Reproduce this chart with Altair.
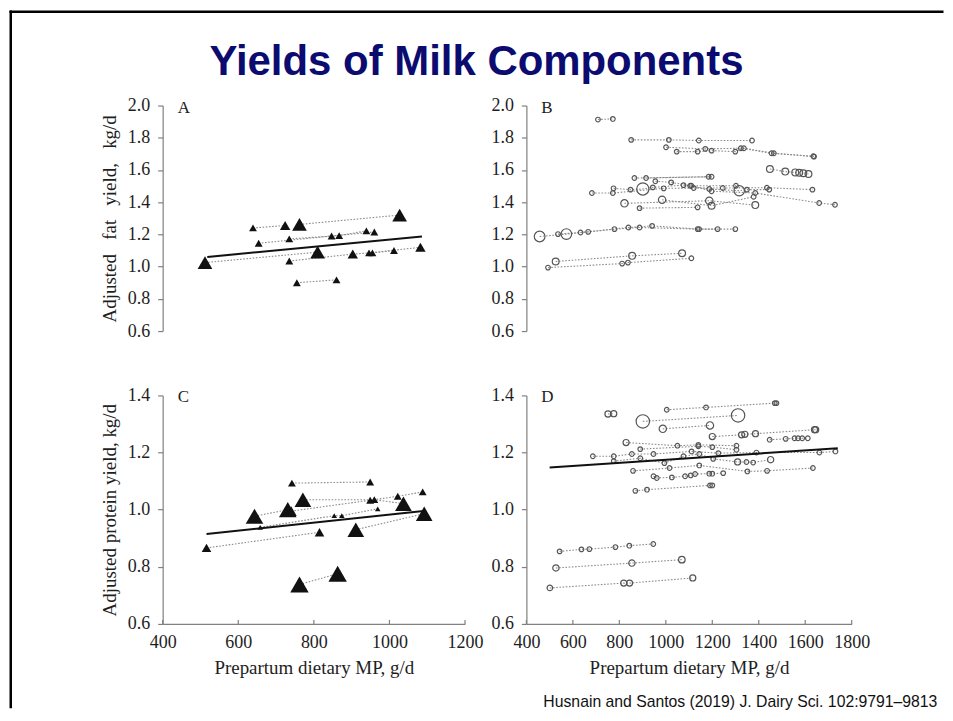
import altair as alt
import pandas as pd

TITLE = "Yields of Milk Components"
CITATION = "Husnain and Santos (2019) J. Dairy Sci. 102:9791\u20139813"
X_TITLE = "Prepartum dietary MP, g/d"
Y_TITLE_FAT = "Adjusted\u2002 fat\u2002 yield,\u2002 kg/d"
Y_TITLE_PROT = "Adjusted protein yield, kg/d"

X_TICKS_LOW = [400, 600, 800, 1000, 1200]
X_TICKS_HIGH = [400, 600, 800, 1000, 1200, 1400, 1600, 1800]
Y_TICKS_FAT = [0.6, 0.8, 1.0, 1.2, 1.4, 1.6, 1.8, 2.0]
Y_TICKS_PROT = [0.6, 0.8, 1.0, 1.2, 1.4]

# ---------------- Panel A: fat yield, low-MP studies (triangles) ----------------
A_study = [1, 1, 2, 2, 3, 3, 4, 4, 4, 5, 5, 5, 6, 6, 6, 6, 7, 7, 8, 8]
A_mp = [512, 810, 639, 724, 762, 1027, 654, 847, 960, 735, 867, 939,
        735, 903, 946, 1082, 955, 1012, 755, 860]
A_yield = [1.025, 1.09, 1.24, 1.255, 1.262, 1.32, 1.145, 1.19, 1.215,
           1.172, 1.193, 1.222, 1.035, 1.078, 1.085, 1.12, 1.085, 1.10,
           0.90, 0.918]
A_weight = [7, 7, 2, 3.5, 7, 7, 2, 2, 2, 2, 2, 2, 2, 3.5, 2, 3.5, 2, 2, 2, 2]
A_fit_mp = [518, 1086]
A_fit_yield = [1.06, 1.187]

# ---------------- Panel C: protein yield, low-MP studies (triangles) ----------------
C_study = [1, 1, 2, 2, 2, 2, 3, 3, 4, 4, 4, 4, 5, 5, 5, 6, 6, 7, 7, 8, 8]
C_mp = [516, 815, 658, 854, 874, 969, 643, 731, 740, 949, 1022, 1088,
        771, 960, 1037, 742, 949, 911, 1092, 762, 863]
C_yield = [0.866, 0.921, 0.938, 0.979, 0.979, 1.003, 0.977, 1.0, 0.995,
           1.033, 1.047, 1.062, 1.035, 1.035, 1.021, 1.093, 1.097, 0.93,
           0.986, 0.738, 0.776]
C_weight = [3, 3, 1, 1, 1, 1, 10, 10, 4, 2, 2, 2, 9, 2, 9, 2, 2, 9, 9, 11, 11]
C_fit_mp = [516, 1090]
C_fit_yield = [0.915, 0.995]

# ---------------- Panel B: fat yield, high-MP studies (circles) ----------------
B_study = [1, 1,
           2, 2, 2, 2,
           3, 3, 3, 3, 3,
           4, 4, 4, 4, 4, 4, 4,
           5, 5, 5, 5, 5, 5,
           6, 6,
           7, 7,
           8, 8, 8, 8,
           9, 9, 9, 9, 9, 9, 9,
           10, 10, 10, 10, 10, 10, 10, 10, 10,
           11, 11, 11, 11, 11,
           12, 12, 12,
           13, 13, 13,
           14, 14,
           15, 15, 15, 15, 15, 15,
           16, 16, 16, 16, 16, 16, 16,
           17, 17, 17, 17,
           18, 18, 18]
B_mp = [708, 772,
        851, 1013, 1142, 1371,
        1001, 1170, 1323, 1455, 1635,
        1047, 1137, 1197, 1299, 1336, 1465, 1638,
        1448, 1514, 1557, 1574, 1592, 1614,
        865, 1184,
        915, 1197,
        955, 1023, 1105, 1302,
        682, 772, 991, 1120, 1245, 1435, 1631,
        775, 848, 901, 944, 1076, 1187, 1316, 1349, 1445,
        1110, 1197, 1385, 1660, 1728,
        822, 1187, 1385,
        984, 1197, 1378,
        887, 1137,
        457, 572, 779, 887, 1137, 1223,
        536, 633, 666, 839, 941, 1143, 1299,
        493, 812, 837, 1110,
        526, 855, 1070]
B_yield = [1.913, 1.917,
           1.787, 1.787, 1.783, 1.783,
           1.741, 1.731, 1.735, 1.704, 1.685,
           1.714, 1.714, 1.72, 1.714, 1.735, 1.704, 1.683,
           1.606, 1.59, 1.585, 1.583, 1.58, 1.575,
           1.55, 1.558,
           1.55, 1.558,
           1.53, 1.523, 1.502, 1.502,
           1.457, 1.457, 1.486, 1.488, 1.488, 1.49, 1.478,
           1.486, 1.478, 1.482, 1.492, 1.506, 1.482, 1.471, 1.478, 1.478,
           1.502, 1.468, 1.457, 1.395, 1.384,
           1.393, 1.409, 1.382,
           1.415, 1.378, 1.434,
           1.363, 1.368,
           1.187, 1.202, 1.233, 1.243, 1.233, 1.233,
           1.202, 1.212, 1.216, 1.243, 1.253, 1.233, 1.233,
           0.994, 1.019, 1.025, 1.052,
           1.032, 1.067, 1.083]
B_weight = [0.7, 0.7,
            0.7, 0.7, 0.7, 0.7,
            0.7, 0.7, 0.7, 0.7, 0.7,
            0.7, 0.7, 0.7, 0.7, 0.7, 0.7, 0.7,
            1.5, 1.5, 1.5, 1.5, 1.5, 1.5,
            0.7, 0.7,
            0.7, 0.7,
            0.7, 0.7, 0.7, 0.7,
            0.7, 0.7, 0.7, 0.7, 0.7, 0.7, 0.7,
            0.7, 0.7, 4.8, 0.7, 0.7, 0.7, 3.5, 0.7, 0.7,
            0.7, 0.7, 0.7, 0.7, 0.7,
            1.75, 1.75, 1.5,
            1.75, 1.5, 0.7,
            0.7, 0.7,
            3.7, 3.7, 0.7, 0.7, 0.7, 0.7,
            0.7, 0.7, 0.7, 0.7, 0.7, 0.7, 0.7,
            0.7, 0.7, 0.7, 0.7,
            1.5, 1.5, 1.5]

# ---------------- Panel D: protein yield, high-MP studies (circles) ----------------
D_study = [1, 1, 1, 1,
           2, 2,
           3, 3,
           4, 4,
           5, 5, 5, 5, 5, 5,
           6, 6, 6, 6,
           7, 7, 7, 7, 7, 7,
           8, 8, 8, 8, 8, 8, 8, 8, 8,
           9, 9, 9, 9,
           10, 10, 10, 10, 10, 10, 10, 10, 10, 10,
           11, 11, 11, 11, 11, 11,
           12, 12, 12, 12, 12, 12, 12, 12, 12,
           13, 13, 13, 13,
           14, 14, 14, 14, 14, 14,
           15, 15, 15,
           16, 16, 16, 16]
D_mp = [1004, 1173, 1469, 1476,
        751, 776,
        901, 1311,
        987, 1190,
        1200, 1326, 1340, 1386, 1640, 1645,
        829, 1050, 1140, 1304,
        1447, 1516, 1554, 1569, 1587, 1611,
        686, 776, 854, 947, 1111, 1226, 1390, 1661, 1730,
        890, 1140, 1200, 1304,
        776, 890, 994, 1076, 1144, 1204, 1309, 1347, 1376, 1451,
        859, 1016, 1144, 1351, 1436, 1633,
        947, 961, 1026, 1083, 1107, 1126, 1187, 1200, 1247,
        869, 919, 1190, 1200,
        543, 637, 671, 783, 843, 946,
        527, 854, 1069,
        501, 819, 844, 1116]
D_yield = [1.35, 1.358, 1.373, 1.373,
           1.335, 1.336,
           1.309, 1.33,
           1.283, 1.295,
           1.256, 1.262, 1.264, 1.266, 1.28, 1.28,
           1.235, 1.224, 1.227, 1.224,
           1.245, 1.248, 1.25, 1.25, 1.25, 1.25,
           1.187, 1.187, 1.195, 1.195, 1.204, 1.198, 1.2, 1.2, 1.204,
           1.212, 1.222, 1.219, 1.21,
           1.17, 1.18, 1.163, 1.187, 1.195, 1.178, 1.167, 1.167, 1.165, 1.175,
           1.136, 1.146, 1.155, 1.134, 1.136, 1.146,
           1.117, 1.111, 1.113, 1.117, 1.12, 1.125, 1.126, 1.126, 1.128,
           1.066, 1.07, 1.085, 1.085,
           0.854, 0.861, 0.862, 0.869, 0.874, 0.88,
           0.796, 0.813, 0.825,
           0.726, 0.743, 0.743, 0.761]
D_weight = [0.7, 0.7, 0.7, 0.7,
            1.2, 1.2,
            5.8, 5.8,
            1.75, 1.75,
            1.2, 1.2, 1.2, 1.2, 1.2, 1.2,
            1.2, 0.7, 0.7, 0.7,
            0.7, 0.7, 0.7, 0.7, 0.7, 0.7,
            0.7, 0.7, 0.7, 0.7, 0.7, 0.7, 0.7, 0.7, 0.7,
            0.7, 0.7, 0.7, 0.7,
            0.7, 0.7, 0.7, 0.7, 0.7, 0.7, 1.2, 0.7, 0.7, 1.3,
            0.7, 0.7, 0.7, 0.7, 0.7, 0.7,
            0.7, 0.7, 0.7, 0.7, 0.7, 0.7, 0.7, 0.7, 0.7,
            0.7, 0.7, 0.7, 0.7,
            0.7, 0.7, 0.7, 0.7, 0.7, 0.7,
            1.3, 1.3, 1.4,
            1.0, 1.2, 1.2, 1.2]
D_fit_mp = [500, 1740]
D_fit_yield = [1.148, 1.215]

# ---------------- styling ----------------
SERIF = "Liberation Serif"
SANS = "Liberation Sans"
GREY = "#808080"
INK = "#1e1e1e"
W_LOW, W_HIGH = 303, 326
H_TOP, H_BOT = 226, 229


def table(study, mp, yld, weight):
    assert len(study) == len(mp) == len(yld) == len(weight)
    return pd.DataFrame({"study": study, "mp": mp, "yield": yld, "weight": weight})


ONE = alt.Data(values=[{"k": 0}])


def panel(df, fit_mp, fit_y, xdom, ydom, xticks, yticks, ytitle, show_x,
          kind, letter, w, h, extras=()):
    xs = alt.Scale(domain=xdom, nice=False, zero=False)
    ys = alt.Scale(domain=ydom, nice=False, zero=False)
    if show_x:
        xaxis = alt.Axis(values=xticks, format="d", title=X_TITLE, ticks=False,
                         labelFlush=False, labelOverlap=False, labelPadding=10,
                         titlePadding=7)
    else:
        xaxis = None
    yaxis = alt.Axis(values=yticks, format=".1f", title=ytitle, tickSize=5,
                     labelPadding=8, titlePadding=8, labelFlush=False,
                     labelOverlap=False)
    X = alt.X("mp:Q", scale=xs, axis=xaxis)
    Y = alt.Y("yield:Q", scale=ys, axis=yaxis)
    base = alt.Chart(df)
    layers = [
        base.mark_line(strokeDash=[1.6, 1.6], strokeWidth=1.1, color="#8c8c8c")
        .encode(x=X, y=Y, detail="study:N", order="mp:Q")
    ]
    if kind == "tri":
        pts = base.mark_point(shape="triangle-up", filled=True, color="#111111",
                              opacity=1).encode(
            x=X, y=Y,
            size=alt.Size("weight:Q", scale=alt.Scale(domain=[0, 10], range=[0, 310]),
                          legend=None))
    else:
        pts = base.mark_point(shape="circle", filled=False, color="#555555",
                              strokeWidth=1.2, opacity=1).encode(
            x=X, y=Y,
            size=alt.Size("weight:Q", scale=alt.Scale(domain=[0, 10], range=[0, 650]),
                          legend=None))
    layers.append(pts)
    if fit_mp:
        fit = pd.DataFrame({"mp": fit_mp, "yield": fit_y})
        layers.append(alt.Chart(fit).mark_line(color="#111111", strokeWidth=2)
                      .encode(x=X, y=Y))
    if show_x:
        tk = pd.DataFrame({"mp": xticks})
        layers.append(alt.Chart(tk).mark_rule(color=GREY, strokeWidth=1.2)
                      .encode(x=X, y=alt.value(h), y2=alt.value(h - 4)))
    layers.append(alt.Chart(ONE).mark_text(text=letter, font=SERIF, fontSize=17,
                                           align="left", baseline="middle",
                                           color=INK)
                  .encode(x=alt.value(15), y=alt.value(2)))
    layers.extend(extras)
    return alt.layer(*layers).properties(width=w, height=h)


frame_top = alt.Chart(ONE).mark_rule(color="#000000", strokeWidth=2.5).encode(
    x=alt.value(-153.5), x2=alt.value(782.5), y=alt.value(-94))
frame_left = alt.Chart(ONE).mark_rule(color="#000000", strokeWidth=2.5).encode(
    x=alt.value(-152.25), y=alt.value(-95.25), y2=alt.value(604))
title_txt = alt.Chart(ONE).mark_text(text=TITLE, font=SANS, fontSize=42,
                                     fontWeight="bold", color="#0b0b70",
                                     align="center", baseline="alphabetic").encode(
    x=alt.value(314.5), y=alt.value(-31))
cite_txt = alt.Chart(ONE).mark_text(text=CITATION, font=SANS, fontSize=15.8,
                                    color="#111111", align="left",
                                    baseline="alphabetic").encode(
    x=alt.value(17), y=alt.value(312))

pA = panel(table(A_study, A_mp, A_yield, A_weight), A_fit_mp, A_fit_yield,
           [400, 1200], [0.6, 2.0], X_TICKS_LOW, Y_TICKS_FAT, Y_TITLE_FAT, False,
           "tri", "A", W_LOW, H_TOP, extras=(frame_top, frame_left, title_txt))
pB = panel(table(B_study, B_mp, B_yield, B_weight), None, None,
           [400, 1800], [0.6, 2.0], X_TICKS_HIGH, Y_TICKS_FAT, None, False,
           "circ", "B", W_HIGH, H_TOP)
pC = panel(table(C_study, C_mp, C_yield, C_weight), C_fit_mp, C_fit_yield,
           [400, 1200], [0.6, 1.4], X_TICKS_LOW, Y_TICKS_PROT, Y_TITLE_PROT, True,
           "tri", "C", W_LOW, H_BOT)
pD = panel(table(D_study, D_mp, D_yield, D_weight), D_fit_mp, D_fit_yield,
           [400, 1800], [0.6, 1.4], X_TICKS_HIGH, Y_TICKS_PROT, None, True,
           "circ", "D", W_HIGH, H_BOT, extras=(cite_txt,))

chart = alt.concat(pA, pB, pC, pD, columns=2, spacing={"row": 64.5, "column": 61.5},
                   bounds="flush", align="each").properties(padding=0).configure_view(
    stroke=None).configure_axis(
    labelFont=SERIF, labelFontSize=18, labelColor=INK,
    titleFont=SERIF, titleFontSize=19, titleFontWeight="normal", titleColor=INK,
    domainColor=GREY, domainWidth=1.2, tickColor=GREY, tickWidth=1.2, grid=False)

chart.save("out.html", embed_options={"renderer": "svg", "actions": False})
